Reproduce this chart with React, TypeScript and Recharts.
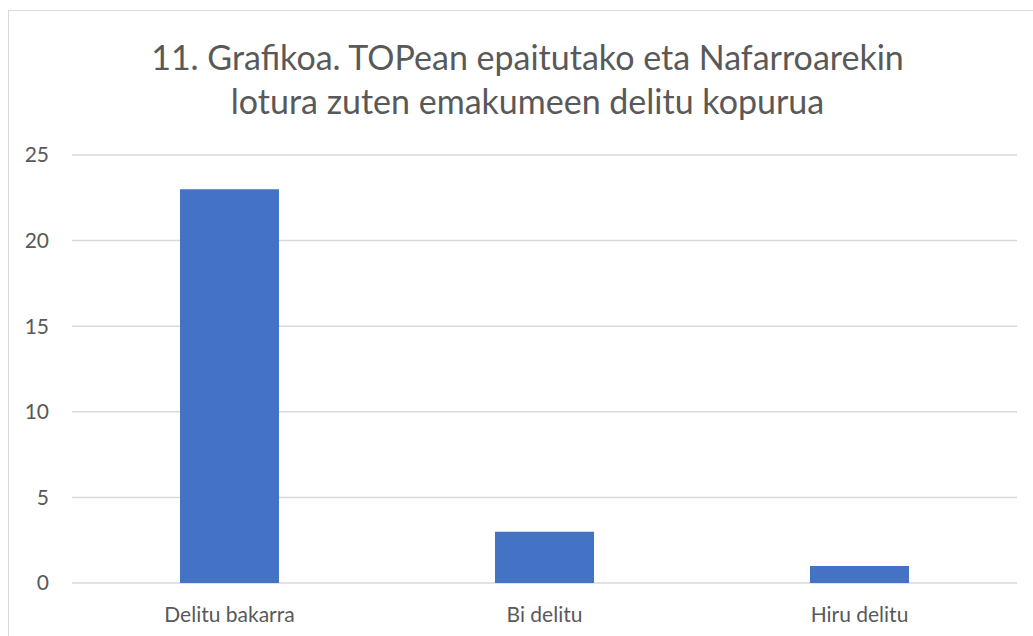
import React from 'react'
import { BarChart, Bar, XAxis, YAxis, CartesianGrid } from 'recharts'

const categories = ['Delitu bakarra', 'Bi delitu', 'Hiru delitu']
const counts = [23, 3, 1]
const yTicks = [0, 5, 10, 15, 20, 25]
const titleLines = ['11. Grafikoa. TOPean epaitutako eta Nafarroarekin', 'lotura zuten emakumeen delitu kopurua']

const data = categories.map((name, i) => ({ name, value: counts[i] }))

const font = 'Lato, "Open Sans", sans-serif'
const textColor = '#595959'

export default function App() {
  return (
    <div style={{ position: 'fixed', left: 0, top: 0, width: 1033, height: 636, overflow: 'hidden', fontFamily: font, background: '#fff' }}>
      <div
        style={{
          position: 'absolute',
          left: 8,
          top: 10,
          width: 1040,
          height: 640,
          border: '1px solid #d9d9d9',
          background: '#fff',
        }}
      >
        {/* title */}
        <div
          style={{
            position: 'absolute',
            left: 0,
            top: 24,
            width: 1037,
            textAlign: 'center',
            color: textColor,
            fontSize: 34,
            lineHeight: '44px',
          }}
        >
          {titleLines.map((l) => (
            <div key={l}>{l}</div>
          ))}
        </div>
        <BarChart
          width={1037}
          height={625}
          data={data}
          margin={{ top: 144, right: 29, left: 0, bottom: 0 }}
        >
          <CartesianGrid vertical={false} stroke="#d9d9d9" strokeWidth={1.5} />
          <XAxis
            dataKey="name"
            axisLine={false}
            tickLine={false}
            tickSize={0}
            tickMargin={24}
            height={53}
            tick={{ fill: textColor, fontSize: 21, fontFamily: font }}
          />
          <YAxis
            domain={[0, 25]}
            ticks={yTicks}
            axisLine={false}
            tickLine={false}
            tickSize={0}
            tickMargin={23}
            width={63}
            tick={{ fill: textColor, fontSize: 21, fontFamily: font }}
          />
          <Bar dataKey="value" fill="#4472C4" barSize={99} isAnimationActive={false} />
        </BarChart>
      </div>
    </div>
  )
}
